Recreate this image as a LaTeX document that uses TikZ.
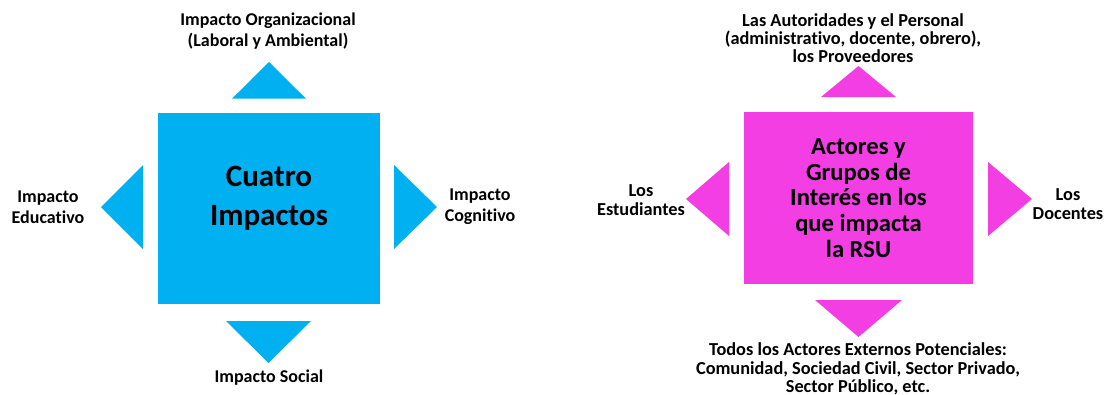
\documentclass[tikz,border=0pt]{standalone}
\usepackage{fontspec}
\setmainfont{Carlito}[Ligatures=NoCommon]
\definecolor{impblue}{HTML}{00B0F0}
\definecolor{rsupink}{HTML}{F23EE3}
\begin{document}
\begin{tikzpicture}[x=1pt,y=-1pt,
  lbl/.style={inner sep=0pt,align=center,font=\fontsize{18}{21}\selectfont\bfseries},
  lblr/.style={inner sep=0pt,align=center,font=\fontsize{18.3}{18.3}\selectfont\bfseries},
  bigl/.style={inner sep=0pt,align=center,font=\fontsize{31}{39}\selectfont\bfseries},
  bigr/.style={inner sep=0pt,align=center,font=\fontsize{24.6}{25.7}\selectfont\bfseries}]
\useasboundingbox (0,0) rectangle (1104,394);
% ---------- left diagram ----------
\fill[impblue] (158,113) rectangle (380,304);
\node[bigl] (cuatro) at (269,198) {Cuatro\\Impactos};
\fill[impblue] (269,62) -- (306,98.7) -- (232,98.7) -- cycle;
\fill[impblue] (226,321) -- (311,321) -- (268.5,363) -- cycle;
\fill[impblue] (143,165) -- (143,249) -- (101,207) -- cycle;
\fill[impblue] (394,165) -- (394,249) -- (437,207) -- cycle;
\node[lbl] (org) at (268,31) {Impacto Organizacional\\(Laboral y Ambiental)};
\node[lbl] (soc) at (269,378) {Impacto Social};
\node[lbl] (edu) at (48,207) {Impacto\\Educativo};
\node[lbl] (cog) at (480,207) {Impacto\\Cognitivo};
% ---------- right diagram ----------
\fill[rsupink] (744,112) rectangle (973,284);
\node[bigr] (actores) at (858.5,198) {Actores y\\Grupos de\\Interés en los\\que impacta\\la RSU};
\fill[rsupink] (858.5,66) -- (896,97) -- (821,97) -- cycle;
\fill[rsupink] (815,300) -- (902,300) -- (858.5,337) -- cycle;
\fill[rsupink] (729,162) -- (729,236) -- (686,199) -- cycle;
\fill[rsupink] (988,162) -- (988,236) -- (1032,199) -- cycle;
\node[lblr] (aut) at (853,38) {Las Autoridades y el Personal\\(administrativo, docente, obrero),\\los Proveedores};
\node[lblr] (ext) at (858,369) {Todos los Actores Externos Potenciales:\\Comunidad, Sociedad Civil, Sector Privado,\\Sector Público, etc.};
\node[lblr] (est) at (641,200) {Los\\Estudiantes};
\node[lblr] (doc) at (1068,204) {Los\\Docentes};
\end{tikzpicture}
\end{document}
